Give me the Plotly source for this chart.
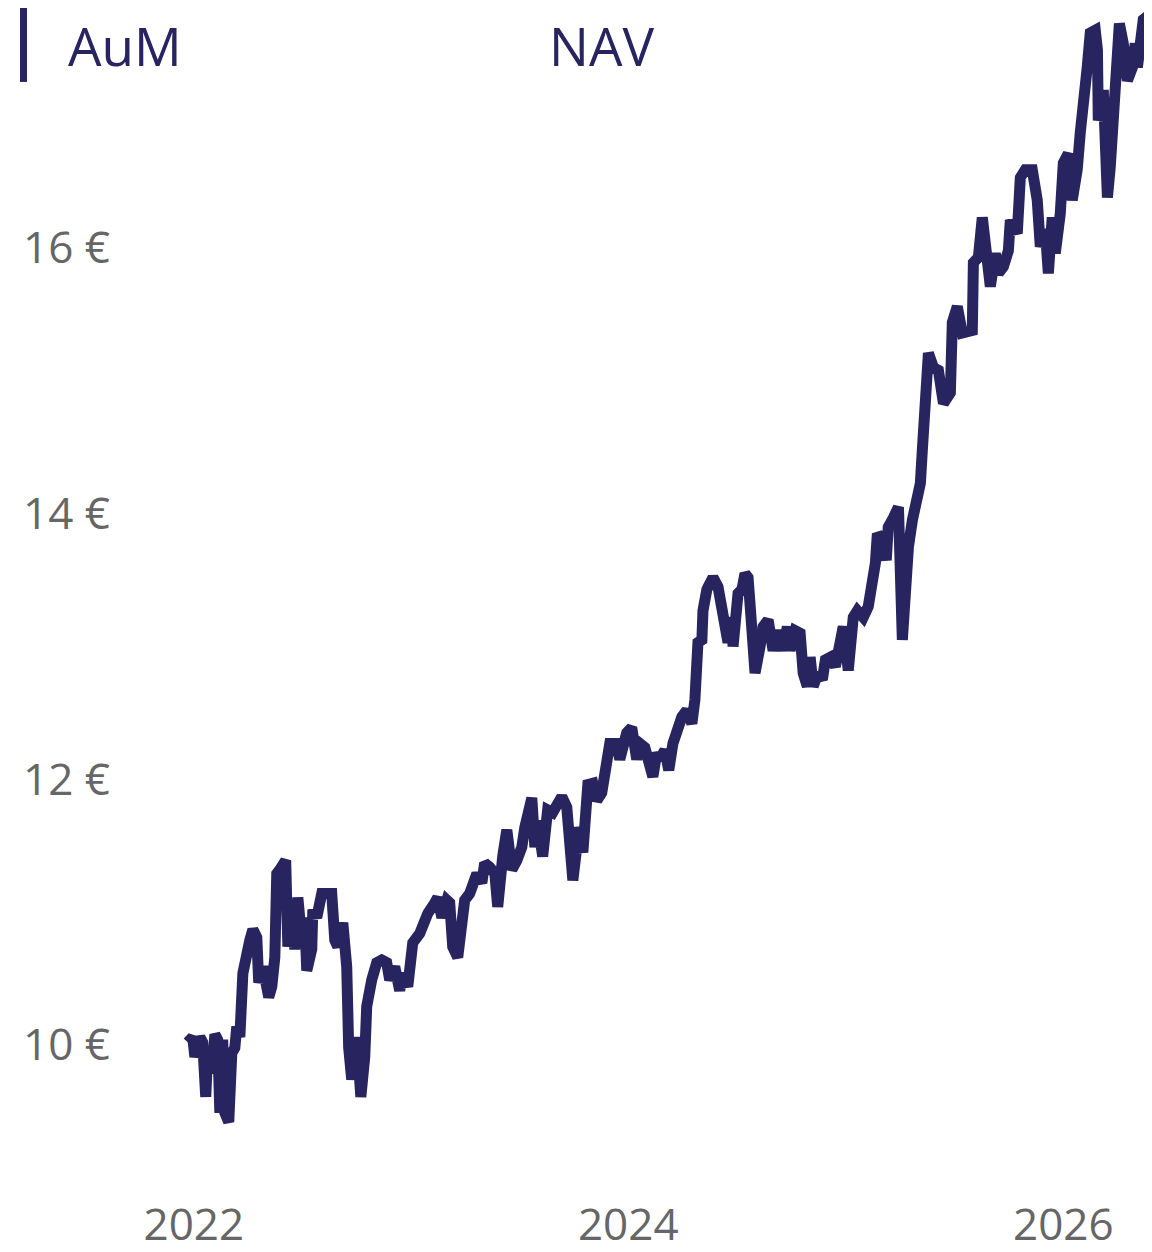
import datetime as dt
import plotly.graph_objects as go

# NAV series: time as decimal year, value in EUR
nav_time = [
    2021.972, 2021.995, 2022.005, 2022.028, 2022.041, 2022.055, 2022.064, 2022.083, 2022.097, 2022.110,
    2022.120, 2022.133, 2022.143, 2022.161, 2022.175, 2022.189, 2022.198, 2022.212, 2022.226, 2022.244,
    2022.258, 2022.272, 2022.290, 2022.299, 2022.318, 2022.345, 2022.359, 2022.373, 2022.382, 2022.396,
    2022.423, 2022.433, 2022.451, 2022.465, 2022.479, 2022.497, 2022.511, 2022.520, 2022.543, 2022.548,
    2022.566, 2022.589, 2022.635, 2022.649, 2022.663, 2022.686, 2022.704, 2022.713, 2022.727, 2022.750,
    2022.769, 2022.787, 2022.796, 2022.819, 2022.842, 2022.865, 2022.888, 2022.902, 2022.925, 2022.948,
    2022.962, 2022.985, 2023.008, 2023.040, 2023.054, 2023.077, 2023.109, 2023.123, 2023.142, 2023.165,
    2023.178, 2023.192, 2023.215, 2023.234, 2023.247, 2023.270, 2023.284, 2023.303, 2023.326, 2023.339,
    2023.362, 2023.386, 2023.399, 2023.409, 2023.422, 2023.441, 2023.464, 2023.487, 2023.510, 2023.524,
    2023.537, 2023.556, 2023.570, 2023.583, 2023.606, 2023.629, 2023.652, 2023.675, 2023.694, 2023.717,
    2023.731, 2023.745, 2023.763, 2023.768, 2023.791, 2023.814, 2023.837, 2023.855, 2023.878, 2023.901,
    2023.915, 2023.947, 2023.961, 2023.993, 2024.016, 2024.039, 2024.053, 2024.076, 2024.099, 2024.113,
    2024.131, 2024.145, 2024.168, 2024.186, 2024.205, 2024.223, 2024.246, 2024.269, 2024.292, 2024.306,
    2024.315, 2024.320, 2024.338, 2024.343, 2024.361, 2024.375, 2024.389, 2024.412, 2024.430, 2024.444,
    2024.458, 2024.476, 2024.481, 2024.504, 2024.522, 2024.536, 2024.550, 2024.568, 2024.582, 2024.605,
    2024.619, 2024.642, 2024.665, 2024.688, 2024.711, 2024.730, 2024.743, 2024.766, 2024.789, 2024.803,
    2024.822, 2024.835, 2024.849, 2024.872, 2024.891, 2024.905, 2024.928, 2024.951, 2024.974, 2024.987,
    2025.010, 2025.033, 2025.052, 2025.079, 2025.102, 2025.121, 2025.135, 2025.144, 2025.167, 2025.185,
    2025.194, 2025.218, 2025.241, 2025.259, 2025.273, 2025.287, 2025.305, 2025.328, 2025.342, 2025.351,
    2025.356, 2025.374, 2025.379, 2025.402, 2025.425, 2025.448, 2025.480, 2025.489, 2025.512, 2025.535,
    2025.581, 2025.586, 2025.609, 2025.627, 2025.650, 2025.664, 2025.687, 2025.701, 2025.724, 2025.747,
    2025.756, 2025.788, 2025.802, 2025.825, 2025.857, 2025.880, 2025.894, 2025.917, 2025.931, 2025.949,
    2025.963, 2025.986, 2026.000, 2026.023, 2026.041, 2026.064, 2026.078, 2026.092, 2026.110, 2026.124,
    2026.147, 2026.157, 2026.161, 2026.184, 2026.203, 2026.216, 2026.230, 2026.249, 2026.258, 2026.276,
    2026.295, 2026.318, 2026.331, 2026.341, 2026.354, 2026.368, 2026.391,
]

nav_value = [
    10.02, 10.06, 9.91, 10.06, 10.02, 9.61, 9.94, 9.79, 10.08, 10.04,
    9.49, 10.04, 9.49, 9.42, 9.94, 9.98, 10.14, 10.06, 10.54, 10.74,
    10.79, 10.87, 10.81, 10.47, 10.59, 10.36, 10.44, 10.66, 11.29, 11.32,
    11.39, 10.74, 11.04, 10.72, 11.11, 10.79, 10.96, 10.56, 10.72, 11.02,
    10.96, 11.14, 11.14, 10.79, 10.74, 10.92, 10.59, 9.98, 9.74, 10.06,
    9.61, 9.91, 10.29, 10.49, 10.62, 10.64, 10.62, 10.49, 10.59, 10.41,
    10.54, 10.44, 10.77, 10.84, 10.92, 10.99, 11.07, 11.11, 10.96, 11.09,
    11.07, 10.74, 10.66, 11.02, 11.09, 11.14, 11.24, 11.29, 11.22, 11.37,
    11.34, 11.29, 11.04, 11.32, 11.42, 11.62, 11.32, 11.39, 11.49, 11.64,
    11.77, 11.86, 11.49, 11.69, 11.42, 11.77, 11.75, 11.84, 11.87, 11.79,
    11.57, 11.24, 11.49, 11.64, 11.45, 11.96, 11.97, 11.84, 11.90, 12.15,
    12.27, 12.27, 12.15, 12.35, 12.39, 12.15, 12.27, 12.24, 12.05, 12.02,
    12.20, 12.15, 12.22, 12.07, 12.27, 12.39, 12.47, 12.52, 12.42, 12.60,
    12.85, 13.03, 13.05, 13.27, 13.43, 13.48, 13.52, 13.45, 13.27, 13.07,
    13.03, 13.22, 13.00, 13.40, 13.43, 13.55, 13.52, 13.12, 12.80, 13.00,
    13.15, 13.20, 12.97, 13.12, 12.97, 13.15, 12.97, 13.12, 13.10, 12.80,
    12.70, 12.92, 12.70, 12.80, 12.75, 12.90, 12.92, 12.85, 13.00, 13.15,
    12.82, 13.22, 13.27, 13.22, 13.30, 13.48, 13.63, 13.85, 13.80, 13.65,
    13.90, 13.97, 14.05, 13.05, 13.50, 13.75, 13.95, 14.10, 14.23, 14.48,
    14.61, 14.98, 15.21, 15.10, 15.08, 14.83, 14.91, 15.44, 15.56, 15.36,
    15.38, 15.89, 15.93, 16.23, 15.91, 15.71, 15.96, 15.81, 15.86, 15.98,
    16.21, 16.11, 16.53, 16.59, 16.59, 16.36, 16.01, 16.14, 15.81, 16.23,
    15.96, 16.26, 16.64, 16.71, 16.36, 16.59, 16.87, 17.19, 17.36, 17.62,
    17.64, 17.49, 16.96, 17.19, 16.38, 16.61, 17.11, 17.36, 17.69, 17.54,
    17.26, 17.36, 17.54, 17.36, 17.57, 17.72, 17.75,
]

y_tick_values = [10, 12, 14, 16]
y_tick_labels = ["10 €", "12 €", "14 €", "16 €"]
x_tick_values = ["2022-01-01", "2024-01-01", "2026-01-01"]
x_tick_labels = ["2022", "2024", "2026"]
tab_labels = ["AuM", "NAV"]


def to_date(decimal_year):
    year = int(decimal_year)
    start = dt.datetime(year, 1, 1)
    end = dt.datetime(year + 1, 1, 1)
    return start + (end - start) * (decimal_year - year)


nav_dates = [to_date(t) for t in nav_time]

NAVY = "#27245f"
GREY = "#666666"
FONT = "Open Sans"

fig = go.Figure()
fig.add_trace(go.Scatter(
    x=nav_dates, y=nav_value, mode="lines",
    line=dict(color=NAVY, width=11),
    hoverinfo="skip", showlegend=False,
))

fig.update_layout(
    width=1144, height=1244,
    margin=dict(l=12, r=0, t=0, b=57),
    paper_bgcolor="white", plot_bgcolor="white",
    font=dict(family=FONT, color=GREY),
    xaxis=dict(
        range=["2021-03-15", "2026-05-30"],
        tickvals=x_tick_values, ticktext=x_tick_labels,
        showgrid=False, zeroline=False, showline=False, ticks="",
        tickfont=dict(size=44, color=GREY, family=FONT),
    ),
    yaxis=dict(
        range=[8.871, 17.807],
        tickvals=y_tick_values, ticktext=y_tick_labels,
        ticklabelposition="inside",
        showgrid=False, zeroline=False, showline=False, ticks="",
        tickfont=dict(size=44, color=GREY, family=FONT),
    ),
    shapes=[dict(
        type="rect", xref="paper", yref="paper",
        x0=0.0, x1=0.0062, y0=0.9377, y1=1.0,
        fillcolor=NAVY, line=dict(width=0), layer="above",
    )],
    annotations=[
        dict(text=tab_labels[0], xref="paper", yref="paper", x=0.0406, y=0.9688,
             xanchor="left", yanchor="middle", showarrow=False,
             font=dict(size=53, color=NAVY, family=FONT)),
        dict(text=tab_labels[1], xref="paper", yref="paper", x=0.4655, y=0.9688,
             xanchor="left", yanchor="middle", showarrow=False,
             font=dict(size=53, color=NAVY, family=FONT)),
    ],
)

fig.write_html("out.html")
